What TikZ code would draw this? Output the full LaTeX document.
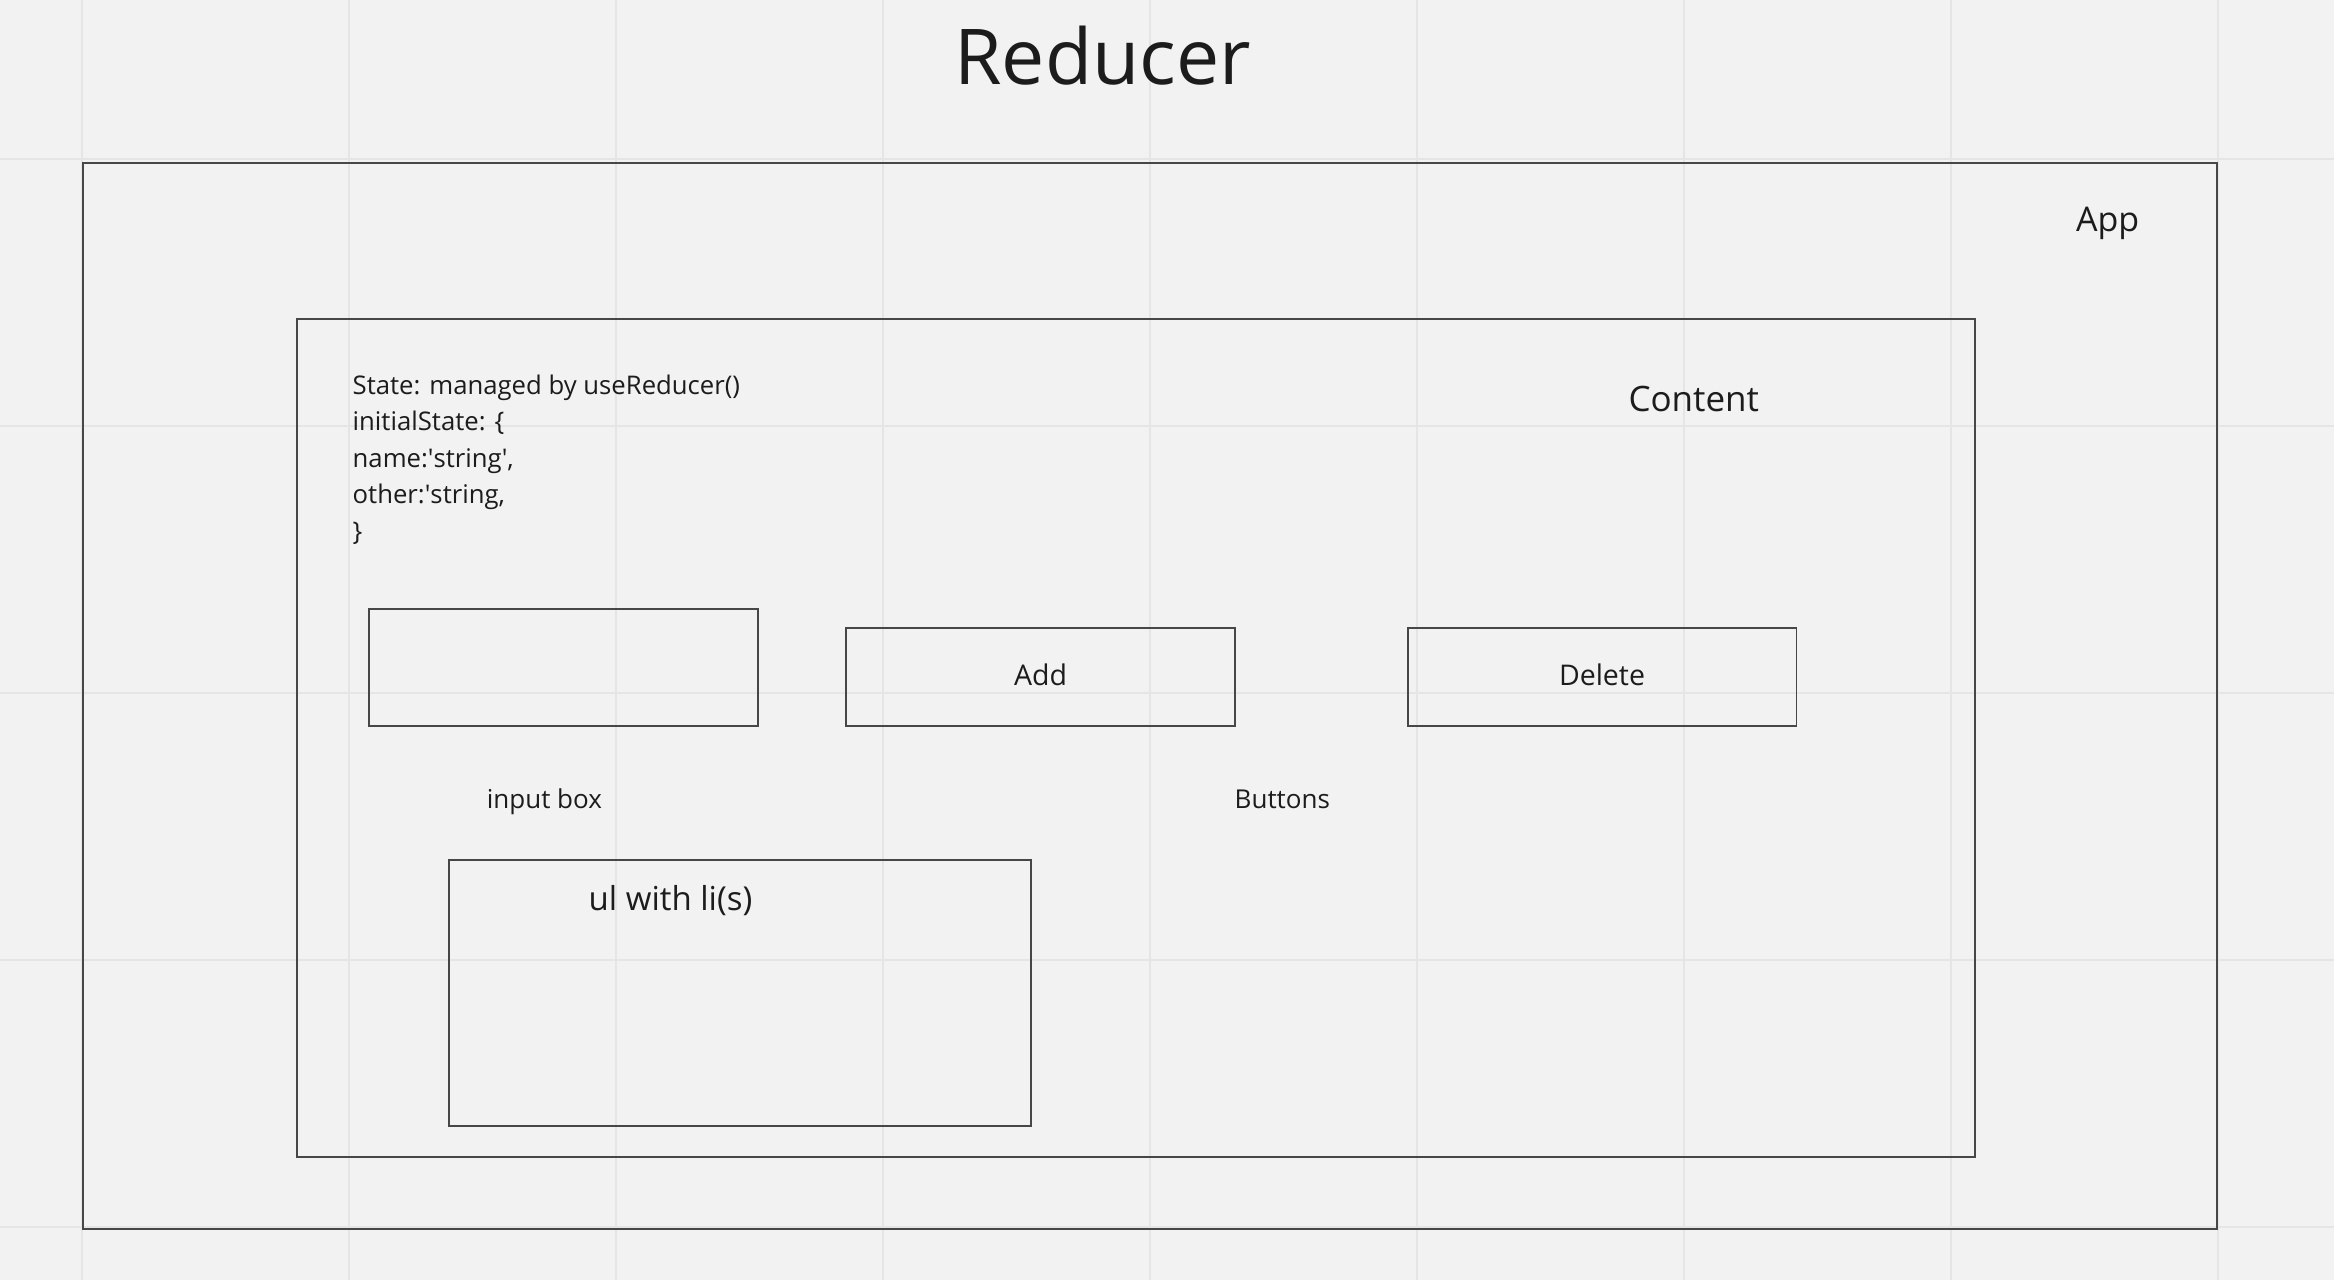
\documentclass[tikz,border=0pt]{standalone}
\usepackage{fontspec}
\setmainfont{Open Sans}
\definecolor{bg}{HTML}{F2F2F2}
\definecolor{gridc}{HTML}{E5E5E5}
\definecolor{linec}{HTML}{474747}
\definecolor{txt}{HTML}{1C1C1C}
\tikzset{
  boxnode/.style={draw=linec, line width=1.7pt, inner sep=0pt, outer sep=0pt, anchor=north west},
  lbl/.style={text=txt, inner sep=0pt, outer sep=0pt},
  stateline/.style={lbl, anchor=base west, font=\fontsize{25.7}{36.5}\selectfont},
  gridline/.style={draw=gridc, line width=2pt}
}
\newcommand{\fs}[2]{\fontsize{#1}{#2}\selectfont}
\newcommand{\sq}{\textquotesingle}
\begin{document}
\begin{tikzpicture}[x=1pt,y=-1pt]
\useasboundingbox (0,0) rectangle (2334,1280);
\fill[bg] (0,0) rectangle (2334,1280);
% grid
\foreach \gx in {81.6,348.6,615.6,882.6,1149.6,1416.6,1683.6,1950.6,2217.6}
  \draw[gridline] (\gx,0) -- (\gx,1280);
\foreach \gy in {159,426,693,960,1227}
  \draw[gridline] (0,\gy) -- (2334,\gy);
% title
\node[lbl, anchor=base] (title) at (1102.5,84) {\fs{77}{90}Reducer};
% App frame
\node[boxnode, minimum width=2134.6pt, minimum height=1065.7pt] (app) at (82.7,163.3) {};
\node[lbl, anchor=base west] (applbl) at (2076,231.7) {\fs{34}{40}App};
% Content frame
\node[boxnode, minimum width=1678.6pt, minimum height=837.7pt] (content) at (296.7,319) {};
\node[lbl, anchor=base west] (contentlbl) at (1628.5,411.7) {\fs{35}{42}Content};
% state text
\node[stateline] (state1) at (352.7,394)   {State: managed by useReducer()};
\node[stateline] (state2) at (352.7,430.5) {initialState: \{};
\node[stateline] (state3) at (352.7,467)   {name:\sq string\sq,};
\node[stateline] (state4) at (352.7,503.5) {other:\sq string,};
\node[stateline] (state5) at (352.7,540)   {\}};
% input box
\node[boxnode, minimum width=389.3pt, minimum height=116.4pt] (input) at (368.9,609.3) {};
\node[lbl, anchor=base] (inputlbl) at (544.4,808.3) {\fs{26}{32}input box};
% buttons
\node[boxnode, minimum width=389.2pt, minimum height=97.4pt] (add) at (846,628.3) {};
\node[lbl, anchor=base] (addlbl) at (1040.6,685) {\fs{28.5}{34}Add};
\node[boxnode, minimum width=388.7pt, minimum height=97.4pt] (delete) at (1407.7,628.3) {};
\node[lbl, anchor=base] (deletelbl) at (1602,685) {\fs{28.5}{34}Delete};
\node[lbl, anchor=base] (buttonslbl) at (1282.3,808.3) {\fs{26}{32}Buttons};
% ul box
\node[boxnode, minimum width=582.1pt, minimum height=266.3pt] (ul) at (449,859.7) {};
\node[lbl, anchor=base west] (ullbl) at (588.7,910.7) {\fs{33}{40}ul with li(s)};
\end{tikzpicture}
\end{document}
